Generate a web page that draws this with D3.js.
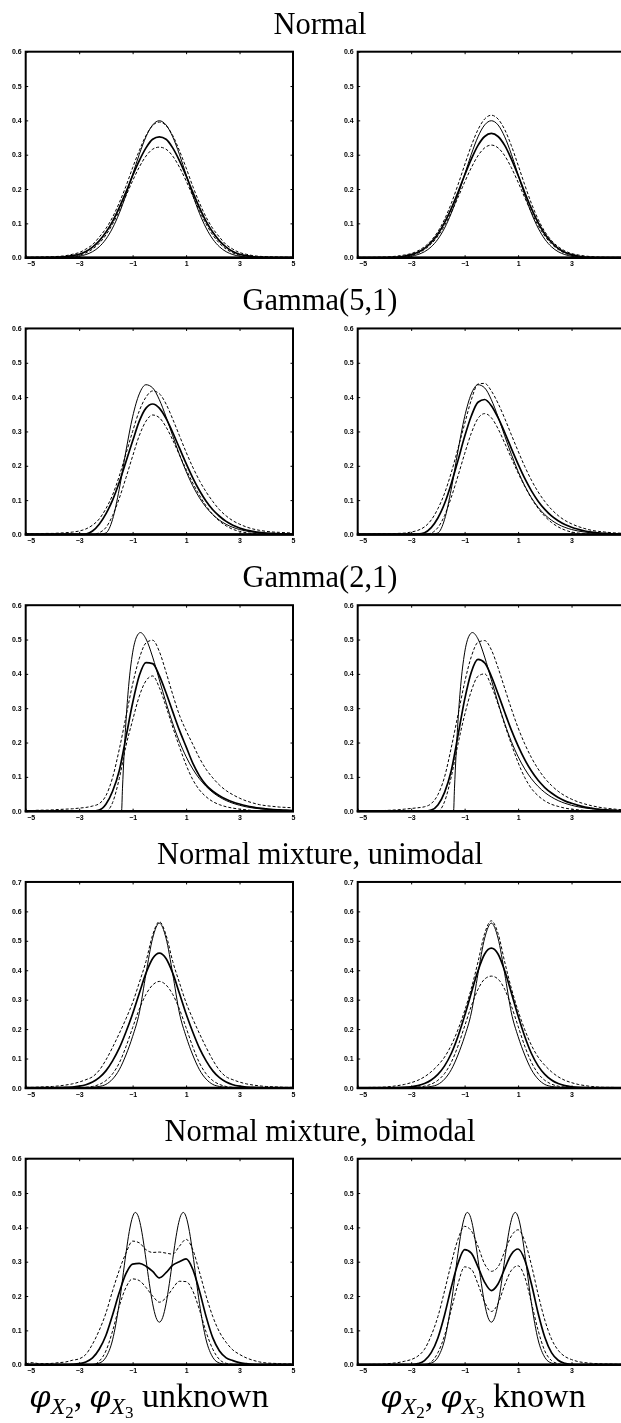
<!DOCTYPE html>
<html><head><meta charset="utf-8">
<script src="https://cdn.jsdelivr.net/npm/d3@7"></script>
<style>body{margin:0;background:#fff} svg{display:block;will-change:transform}</style>
</head><body>
<svg id="c" width="621" height="1423"></svg>
<script>
// ---------- data ----------
const xGrid = [-5,-4.75,-4.5,-4.25,-4,-3.75,-3.5,-3.25,-3,-2.75,-2.5,-2.25,-2,-1.75,-1.5,-1.25,-1,-0.75,-0.5,-0.25,0,0.25,0.5,0.75,1,1.25,1.5,1.75,2,2.25,2.5,2.75,3,3.25,3.5,3.75,4,4.25,4.5,4.75,5];

const titles = ["Normal","Gamma(5,1)","Gamma(2,1)","Normal mixture, unimodal","Normal mixture, bimodal"];
const yMaxes = [0.6,0.6,0.6,0.7,0.6];
const xTickValues = [-5,-3,-1,1,3,5];
const colWords = ["unknown","known"];

// Normal
const normTrue = [0,0,0,0,0,0.0004,0.0009,0.002,0.0044,0.0091,0.0175,0.0317,0.054,0.0863,0.1295,0.1826,0.242,0.3011,0.3521,0.3867,0.3989,0.3867,0.3521,0.3011,0.242,0.1826,0.1295,0.0863,0.054,0.0317,0.0175,0.0091,0.0044,0.002,0.0009,0.0004,0,0,0,0,0];
const normUnkMean = [0,0,0,0.0003,0.0007,0.0015,0.003,0.006,0.010,0.018,0.031,0.049,0.074,0.106,0.146,0.191,0.239,0.283,0.320,0.345,0.352,0.345,0.320,0.283,0.239,0.191,0.146,0.106,0.074,0.049,0.031,0.018,0.010,0.006,0.003,0.0015,0.0007,0.0003,0,0,0];
const normUnkUpper = [0.001,0.0015,0.002,0.0025,0.003,0.004,0.006,0.010,0.015,0.025,0.038,0.060,0.085,0.118,0.160,0.208,0.262,0.312,0.356,0.385,0.395,0.385,0.356,0.312,0.262,0.208,0.160,0.118,0.085,0.060,0.038,0.025,0.015,0.010,0.006,0.004,0.003,0.0025,0.002,0.0015,0.001];
const normUnkLower = [0,0,0,0,0,0,0.001,0.003,0.007,0.014,0.025,0.042,0.066,0.098,0.137,0.180,0.224,0.264,0.296,0.316,0.322,0.316,0.296,0.264,0.224,0.180,0.137,0.098,0.066,0.042,0.025,0.014,0.007,0.003,0.001,0,0,0,0,0,0];
const normKnMean = [0,0,0,0,0,0.001,0.002,0.005,0.009,0.016,0.027,0.045,0.069,0.102,0.143,0.190,0.240,0.287,0.327,0.353,0.362,0.353,0.327,0.287,0.240,0.190,0.143,0.102,0.069,0.045,0.027,0.016,0.009,0.005,0.002,0.001,0,0,0,0,0];
const normKnUpper = [0.001,0.001,0.001,0.0015,0.002,0.003,0.005,0.008,0.012,0.020,0.032,0.050,0.076,0.112,0.158,0.212,0.270,0.326,0.373,0.404,0.415,0.404,0.373,0.326,0.270,0.212,0.158,0.112,0.076,0.050,0.032,0.020,0.012,0.008,0.005,0.003,0.002,0.0015,0.001,0.001,0.001];
const normKnLower = [0,0,0,0,0,0,0.001,0.003,0.007,0.013,0.024,0.040,0.063,0.094,0.132,0.175,0.220,0.262,0.297,0.320,0.328,0.320,0.297,0.262,0.220,0.175,0.132,0.094,0.063,0.040,0.024,0.013,0.007,0.003,0.001,0,0,0,0,0,0];

// Gamma(5,1)
const g5True = [0,0,0,0,0,0,0,0,0,0,0,0,0.0043,0.0439,0.1319,0.2429,0.3426,0.4094,0.4361,0.4269,0.3924,0.3427,0.2873,0.2331,0.1839,0.1417,0.1068,0.0791,0.0577,0.0415,0.0294,0.0207,0.0144,0.0099,0.0068,0.0046,0.0031,0.0021,0.0014,0.0009,0.0006];
const g5UnkMean = [0,0,0,0,0,0,0,0,0,0.001,0.010,0.030,0.060,0.100,0.152,0.212,0.272,0.330,0.368,0.380,0.368,0.338,0.297,0.252,0.207,0.165,0.128,0.097,0.072,0.053,0.038,0.027,0.019,0.013,0.009,0.006,0.004,0.003,0.002,0.001,0.001];
const g5UnkUpper = [0.002,0.002,0.002,0.003,0.003,0.004,0.005,0.007,0.010,0.016,0.027,0.045,0.075,0.115,0.170,0.235,0.300,0.360,0.400,0.418,0.410,0.380,0.336,0.288,0.240,0.196,0.157,0.124,0.096,0.072,0.054,0.040,0.030,0.022,0.016,0.012,0.009,0.007,0.006,0.005,0.004];
const g5UnkLower = [0,0,0,0,0,0,0,0,0,0,0,0.005,0.020,0.055,0.105,0.165,0.228,0.288,0.330,0.348,0.340,0.313,0.275,0.232,0.190,0.150,0.114,0.083,0.058,0.039,0.025,0.015,0.009,0.005,0.003,0.001,0,0,0,0,0];
const g5KnMean = [0,0,0,0,0,0,0,0,0,0.001,0.005,0.020,0.048,0.090,0.148,0.215,0.285,0.345,0.385,0.393,0.375,0.340,0.297,0.250,0.205,0.163,0.127,0.097,0.073,0.054,0.040,0.029,0.021,0.015,0.010,0.007,0.005,0.003,0.002,0.001,0.001];
const g5KnUpper = [0.001,0.001,0.001,0.002,0.002,0.002,0.003,0.004,0.007,0.012,0.022,0.042,0.075,0.120,0.180,0.250,0.322,0.392,0.438,0.440,0.418,0.382,0.338,0.290,0.243,0.198,0.158,0.124,0.096,0.073,0.055,0.041,0.031,0.023,0.017,0.012,0.009,0.007,0.005,0.004,0.003];
const g5KnLower = [0,0,0,0,0,0,0,0,0,0,0,0.004,0.020,0.055,0.108,0.170,0.235,0.295,0.338,0.352,0.340,0.308,0.266,0.222,0.179,0.140,0.105,0.076,0.053,0.035,0.022,0.013,0.007,0.004,0.002,0.001,0,0,0,0,0];

// Gamma(2,1)
const g2TrueX = [-5,-1.4142,-1.38,-1.35,-1.3,-1.25,-1.15,-1,-0.85,-0.7071,-0.5,-0.25,0,0.25,0.5,0.75,1,1.25,1.5,1.75,2,2.25,2.5,2.75,3,3.25,3.5,3.75,4,4.25,4.5,4.75,5];
const g2TrueY = [0,0,0.0652,0.1173,0.1943,0.2603,0.3637,0.4612,0.5081,0.5203,0.5019,0.4489,0.3827,0.3163,0.2555,0.2028,0.1589,0.1231,0.0945,0.0721,0.0546,0.0412,0.0309,0.0231,0.0172,0.0127,0.0094,0.0070,0.0051,0.0038,0.0028,0.0020,0.0015];
const g2UnkMean = [0,0,0,0,0,0,0,0,0,0,0,0.003,0.020,0.058,0.118,0.215,0.315,0.395,0.433,0.430,0.395,0.345,0.290,0.236,0.188,0.140,0.103,0.076,0.058,0.045,0.035,0.027,0.021,0.016,0.012,0.009,0.007,0.005,0.004,0.003,0.002];
const g2UnkUpper = [0.002,0.002,0.003,0.003,0.004,0.005,0.006,0.007,0.009,0.011,0.015,0.022,0.045,0.098,0.180,0.275,0.370,0.445,0.490,0.498,0.465,0.405,0.340,0.280,0.235,0.195,0.155,0.122,0.097,0.076,0.060,0.048,0.038,0.030,0.024,0.019,0.016,0.014,0.012,0.011,0.010];
const g2UnkLower = [0,0,0,0,0,0,0,0,0,0,0,0,0,0.025,0.095,0.190,0.265,0.335,0.380,0.394,0.360,0.305,0.245,0.188,0.135,0.092,0.062,0.042,0.028,0.019,0.013,0.009,0.006,0.004,0.002,0.001,0,0,0,0,0];
const g2KnMean = [0,0,0,0,0,0,0,0,0,0,0,0.003,0.018,0.055,0.118,0.220,0.325,0.405,0.442,0.432,0.393,0.342,0.288,0.236,0.190,0.150,0.117,0.090,0.069,0.053,0.040,0.030,0.023,0.017,0.012,0.009,0.006,0.004,0.003,0.002,0.001];
const g2KnUpper = [0,0,0.001,0.001,0.002,0.003,0.004,0.006,0.008,0.010,0.013,0.022,0.048,0.100,0.185,0.280,0.375,0.450,0.492,0.497,0.470,0.418,0.358,0.298,0.243,0.196,0.156,0.123,0.096,0.075,0.058,0.045,0.035,0.027,0.021,0.016,0.012,0.009,0.007,0.005,0.004];
const g2KnLower = [0,0,0,0,0,0,0,0,0,0,0,0,0,0.028,0.100,0.195,0.280,0.350,0.393,0.400,0.365,0.312,0.252,0.195,0.142,0.098,0.066,0.045,0.030,0.020,0.014,0.009,0.006,0.004,0.002,0.001,0,0,0,0,0];

// Normal mixture, unimodal
const uniTrue = [0,0,0,0,0,0,0,0,0,0.001,0.002,0.005,0.012,0.030,0.062,0.112,0.175,0.255,0.388,0.509,0.560,0.509,0.388,0.255,0.175,0.112,0.062,0.030,0.012,0.005,0.002,0.001,0,0,0,0,0,0,0,0,0];
const uniUnkMean = [0,0,0,0,0,0.001,0.002,0.003,0.006,0.011,0.020,0.035,0.058,0.092,0.135,0.190,0.252,0.322,0.390,0.440,0.458,0.440,0.390,0.322,0.252,0.190,0.135,0.092,0.058,0.035,0.020,0.011,0.006,0.003,0.002,0.001,0,0,0,0,0];
const uniUnkUpper = [0.002,0.002,0.003,0.004,0.005,0.007,0.010,0.014,0.020,0.028,0.038,0.060,0.095,0.138,0.185,0.235,0.290,0.358,0.430,0.520,0.565,0.520,0.430,0.358,0.290,0.235,0.185,0.138,0.095,0.060,0.038,0.028,0.020,0.014,0.010,0.007,0.005,0.004,0.003,0.002,0.002];
const uniUnkLower = [0,0,0,0,0,0,0,0,0.001,0.002,0.005,0.012,0.025,0.048,0.085,0.140,0.205,0.268,0.318,0.350,0.362,0.350,0.318,0.268,0.205,0.140,0.085,0.048,0.025,0.012,0.005,0.002,0.001,0,0,0,0,0,0,0,0];
const uniKnMean = [0,0,0,0,0,0,0.001,0.002,0.004,0.008,0.015,0.027,0.046,0.075,0.117,0.175,0.245,0.323,0.398,0.455,0.475,0.455,0.398,0.323,0.245,0.175,0.117,0.075,0.046,0.027,0.015,0.008,0.004,0.002,0.001,0,0,0,0,0,0];
const uniKnUpper = [0.001,0.001,0.002,0.002,0.003,0.005,0.008,0.012,0.018,0.026,0.038,0.055,0.077,0.105,0.145,0.198,0.262,0.338,0.428,0.525,0.568,0.525,0.428,0.338,0.262,0.198,0.145,0.105,0.077,0.055,0.038,0.026,0.018,0.012,0.008,0.005,0.003,0.002,0.002,0.001,0.001];
const uniKnLower = [0,0,0,0,0,0,0,0,0.001,0.003,0.006,0.013,0.026,0.049,0.087,0.142,0.210,0.278,0.335,0.370,0.380,0.370,0.335,0.278,0.210,0.142,0.087,0.049,0.026,0.013,0.006,0.003,0.001,0,0,0,0,0,0,0,0];

// Normal mixture, bimodal
const biTrueX = [-5,-3,-2.75,-2.5,-2.25,-2,-1.75,-1.5,-1.25,-1.125,-1,-0.9,-0.8,-0.7,-0.6,-0.5,-0.375,-0.25,-0.125,0,0.125,0.25,0.375,0.5,0.6,0.7,0.8,0.9,1,1.125,1.25,1.5,1.75,2,2.25,2.5,2.75,3,5];
const biTrueY = [0,0,0.0001,0.0008,0.0047,0.0215,0.0723,0.1785,0.3237,0.3881,0.4309,0.4435,0.4343,0.4052,0.3604,0.3065,0.2369,0.1773,0.1376,0.1238,0.1376,0.1773,0.2369,0.3065,0.3604,0.4052,0.4343,0.4435,0.4309,0.3881,0.3237,0.1785,0.0723,0.0215,0.0047,0.0008,0.0001,0,0];
const biUnkMean = [0,0,0,0,0,0,0,0.001,0.003,0.008,0.020,0.045,0.085,0.145,0.210,0.265,0.293,0.295,0.287,0.272,0.253,0.268,0.290,0.300,0.308,0.278,0.215,0.140,0.078,0.040,0.020,0.012,0.006,0.003,0.001,0,0,0,0,0,0];
const biUnkUpper = [0.002,0.006,0.003,0.003,0.004,0.006,0.008,0.013,0.017,0.030,0.060,0.100,0.150,0.215,0.275,0.325,0.360,0.355,0.335,0.327,0.328,0.325,0.322,0.345,0.365,0.335,0.270,0.200,0.140,0.095,0.065,0.043,0.030,0.020,0.013,0.008,0.005,0.004,0.003,0.002,0.002];
const biUnkLower = [0,0,0,0,0,0,0,0,0,0,0,0.010,0.040,0.098,0.170,0.225,0.250,0.245,0.225,0.200,0.182,0.195,0.222,0.243,0.242,0.215,0.160,0.095,0.045,0.015,0.004,0.001,0,0,0,0,0,0,0,0,0];
const biKnMean = [0,0,0,0,0,0,0,0,0,0.003,0.012,0.035,0.078,0.145,0.225,0.295,0.335,0.325,0.285,0.240,0.216,0.235,0.280,0.322,0.337,0.305,0.235,0.150,0.080,0.035,0.013,0.004,0.001,0,0,0,0,0,0,0,0];
const biKnUpper = [0,0,0.001,0.001,0.002,0.004,0.006,0.010,0.015,0.025,0.045,0.085,0.140,0.215,0.295,0.365,0.403,0.390,0.345,0.293,0.272,0.285,0.330,0.375,0.393,0.360,0.290,0.205,0.130,0.075,0.042,0.024,0.015,0.009,0.006,0.004,0.003,0.002,0.002,0.001,0.001];
const biKnLower = [0,0,0,0,0,0,0,0,0,0,0,0.008,0.035,0.085,0.160,0.235,0.285,0.278,0.235,0.182,0.155,0.178,0.232,0.275,0.288,0.255,0.180,0.100,0.040,0.012,0.003,0,0,0,0,0,0,0,0,0,0];

// ---------- assemble ----------
const rows = [
  {tx: xGrid, ty: normTrue, sets: [[normUnkMean, normUnkUpper, normUnkLower],[normKnMean, normKnUpper, normKnLower]]},
  {tx: xGrid, ty: g5True,   sets: [[g5UnkMean, g5UnkUpper, g5UnkLower],[g5KnMean, g5KnUpper, g5KnLower]]},
  {tx: g2TrueX, ty: g2TrueY, sets: [[g2UnkMean, g2UnkUpper, g2UnkLower],[g2KnMean, g2KnUpper, g2KnLower]]},
  {tx: xGrid, ty: uniTrue,  sets: [[uniUnkMean, uniUnkUpper, uniUnkLower],[uniKnMean, uniKnUpper, uniKnLower]]},
  {tx: biTrueX, ty: biTrueY, sets: [[biUnkMean, biUnkUpper, biUnkLower],[biKnMean, biKnUpper, biKnLower]]}
];

// ---------- layout ----------
const PAGE_W = 621;
const W = 267.3, H = 206;
const colX = [25.7, 357.7];
const top0 = 51.7, rowStep = 276.75;
const tickFont = "Liberation Sans, Arial, sans-serif";
const serif = "Liberation Serif, DejaVu Serif, Times New Roman, serif";

const svg = d3.select("#c");
svg.append("rect").attr("width",621).attr("height",1423).attr("fill","#fff");

const x = d3.scaleLinear().domain([-5,5]).range([0,W]);

rows.forEach((row, r) => {
  const top = top0 + rowStep*r;
  const yMax = yMaxes[r];
  const y = d3.scaleLinear().domain([0,yMax]).range([H,0]);
  const yTicks = d3.range(0, Math.round(yMax*10)+1).map(k => k/10);

  svg.append("text")
    .attr("x", 320).attr("y", top - 18.2)
    .attr("text-anchor","middle")
    .attr("font-family", serif).attr("font-size", 30.5)
    .text(titles[r]);

  row.sets.forEach((set, c) => {
    const g = svg.append("g").attr("transform", `translate(${colX[c]},${top})`);
    const line = d3.line().curve(d3.curveMonotoneX).x(d => x(d[0])).y(d => y(d[1]));
    const [mean, upper, lower] = set;

    [upper, lower].forEach(arr => {
      g.append("path").datum(xGrid.map((v,i)=>[v,arr[i]]))
        .attr("d", line).attr("fill","none").attr("stroke","#000")
        .attr("stroke-width",1).attr("stroke-dasharray","3,2");
    });
    g.append("path").datum(xGrid.map((v,i)=>[v,mean[i]]))
      .attr("d", line).attr("fill","none").attr("stroke","#000").attr("stroke-width",1.7);
    g.append("path").datum(row.tx.map((v,i)=>[v,row.ty[i]]))
      .attr("d", line).attr("fill","none").attr("stroke","#000").attr("stroke-width",1);

    // axes (labels only where they fall inside the page)
    const visibleX = xTickValues.filter(v => colX[c] + x(v) + 3 <= PAGE_W);
    const bottom = g.append("g").attr("transform",`translate(0,${H})`)
      .call(d3.axisBottom(x).tickValues(visibleX).tickSizeInner(-2.5).tickSizeOuter(0).tickPadding(3.6).tickFormat(d3.format("d")));
    const topAx = g.append("g")
      .call(d3.axisTop(x).tickValues(xTickValues.slice(1,-1)).tickSizeInner(-2.5).tickSizeOuter(0).tickFormat(""));
    const left = g.append("g")
      .call(d3.axisLeft(y).tickValues(yTicks).tickSizeInner(-2.5).tickSizeOuter(0).tickPadding(4).tickFormat(d3.format(".1f")));
    const right = g.append("g").attr("transform",`translate(${W},0)`)
      .call(d3.axisRight(y).tickValues(yTicks.slice(1,-1)).tickSizeInner(-2.5).tickSizeOuter(0).tickFormat(""));
    [bottom, topAx, left, right].forEach(a => {
      a.attr("font-family", null).attr("font-size", null);
      a.select(".domain").remove();
      a.selectAll("line").attr("stroke","#000").attr("stroke-width",1);
      a.selectAll("text").attr("font-family", tickFont).attr("font-size", 7).attr("font-weight","bold").attr("fill","#000");
    });
    left.selectAll("text").attr("dy","0.3em");
    bottom.selectAll("text").filter(d => d === -5).attr("dx", 5);

    // frame
    g.append("rect").attr("x",0).attr("y",0).attr("width",W).attr("height",H)
      .attr("fill","none").attr("stroke","#000").attr("stroke-width",2);
    g.append("line").attr("x1",-1).attr("x2",W+1).attr("y1",H).attr("y2",H)
      .attr("stroke","#000").attr("stroke-width",2.6);
  });
});

// bottom column labels
const labelCx = [149, 483];
colWords.forEach((word, c) => {
  const F = 34;
  const t = svg.append("text").attr("x", labelCx[c]).attr("y", 1407)
    .attr("text-anchor","middle").attr("font-family", serif).attr("font-size", F);
  const phiFont = "DejaVu Serif, serif";
  const parts = [
    {s:"\u03C6", it:true, fs:F*0.9, dy:0, ff:phiFont},
    {s:"X", it:true, fs:F*0.7, dy:F*0.2},
    {s:"2", it:false, fs:F*0.5, dy:F*0.12},
    {s:",\u2009", it:false, fs:F, dy:-F*0.32},
    {s:"\u03C6", it:true, fs:F*0.9, dy:0, ff:phiFont},
    {s:"X", it:true, fs:F*0.7, dy:F*0.2},
    {s:"3", it:false, fs:F*0.5, dy:F*0.12},
    {s:"\u00A0" + word, it:false, fs:F, dy:-F*0.32}
  ];
  parts.forEach(p => {
    const ts = t.append("tspan").attr("dy", p.dy).attr("font-size", p.fs)
      .attr("font-style", p.it ? "italic" : "normal").text(p.s);
    if (p.ff) ts.attr("font-family", p.ff);
  });
});
</script>
</body></html>
